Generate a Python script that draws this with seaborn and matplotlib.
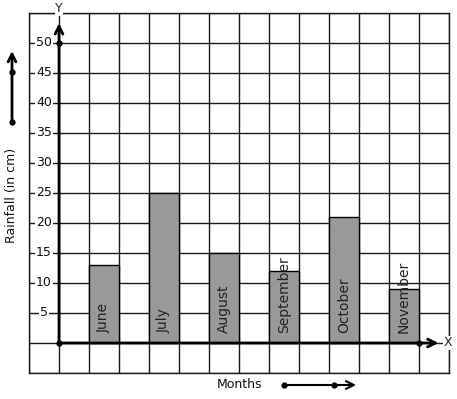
import matplotlib
matplotlib.use("Agg")
import matplotlib.pyplot as plt
import seaborn as sns
import pandas as pd

months = ["June", "July", "August", "September", "October", "November"]
rainfall = [13, 25, 15, 12, 21, 9]
positions = [1.5, 3.5, 5.5, 7.5, 9.5, 11.5]
ytick_values = [5, 10, 15, 20, 25, 30, 35, 40, 45, 50]

sns.set_theme(style="white")
plt.rcParams['font.family'] = ['DejaVu Sans']

W, H = 457, 399
fig = plt.figure(figsize=(W / 100, H / 100), dpi=100)
ax = fig.add_axes([29 / W, (H - 373) / H, 420 / W, 360 / H])

df = pd.DataFrame({"pos": positions, "rain": rainfall, "month": months})
sns.barplot(data=df, x="pos", y="rain", native_scale=True, width=0.5,
            color="#999999", saturation=1, edgecolor="black", linewidth=1,
            ax=ax, zorder=3)

ax.set_xlim(-1, 13)
ax.set_ylim(-5, 55)
ax.set_xticks(range(-1, 14))
ax.set_yticks(range(-5, 56, 5))
ax.grid(True, color="#1a1a1a", linewidth=1)
ax.set_axisbelow(True)
ax.tick_params(left=False, bottom=False, labelleft=False, labelbottom=False)
ax.set_xlabel("")
ax.set_ylabel("")
for s in ax.spines.values():
    s.set_color("#1a1a1a")
    s.set_linewidth(1)

# y tick labels with white background over grid lines
for v in ytick_values:
    ax.text(-0.5, v, str(v), ha="center", va="center", fontsize=9,
            color="#111111", zorder=4,
            bbox=dict(facecolor="white", edgecolor="none", pad=0.5))

# month labels inside bars
for p, m in zip(positions, months):
    ax.text(p, 1.6, m, rotation=90, ha="center", va="bottom", fontsize=10,
            color="#222222", zorder=5)

# axes arrows
ax.annotate("", xy=(0, 53.3), xytext=(0, 0),
            arrowprops=dict(arrowstyle="->", lw=2, color="black",
                            mutation_scale=14, shrinkA=0, shrinkB=0),
            zorder=6, annotation_clip=False)
ax.annotate("", xy=(12.65, 0), xytext=(0, 0),
            arrowprops=dict(arrowstyle="->", lw=2, color="black",
                            mutation_scale=14, shrinkA=0, shrinkB=0),
            zorder=6, annotation_clip=False)
ax.plot([0, 0, 12], [0, 50, 0], "o", color="black", markersize=3.5,
        zorder=7, clip_on=False)
ax.text(0, 55.7, "Y", ha="center", va="center", fontsize=9, zorder=7,
        bbox=dict(facecolor="white", edgecolor="none", pad=0.3), clip_on=False)
ax.text(12.95, 0, "X", ha="center", va="center", fontsize=9, zorder=7,
        bbox=dict(facecolor="white", edgecolor="none", pad=0.3), clip_on=False)

# left label and arrow
fig.text(12 / W, (H - 195) / H, "Rainfall (in cm)", rotation=90,
         ha="center", va="center", fontsize=9, color="#111111")
fig.patches.append(matplotlib.patches.FancyArrowPatch(
    (12, H - 122), (12, H - 51), transform=None, arrowstyle="->",
    mutation_scale=14, lw=2, color="black", shrinkA=0, shrinkB=0))
fig.lines.append(matplotlib.lines.Line2D([12, 12], [H - 122, H - 72],
                                         transform=None, marker="o",
                                         linestyle="none", markersize=3.5,
                                         color="black"))

# bottom label and arrow
fig.text(240 / W, (H - 385) / H, "Months", ha="center", va="center",
         fontsize=9, color="#111111")
fig.patches.append(matplotlib.patches.FancyArrowPatch(
    (284, H - 385), (356, H - 385), transform=None, arrowstyle="->",
    mutation_scale=14, lw=1.5, color="black", shrinkA=0, shrinkB=0))
fig.lines.append(matplotlib.lines.Line2D([284, 334], [H - 385, H - 385],
                                         transform=None, marker="o",
                                         linestyle="none", markersize=3.5,
                                         color="black"))

fig.savefig("out.png", dpi=100, facecolor="white")
